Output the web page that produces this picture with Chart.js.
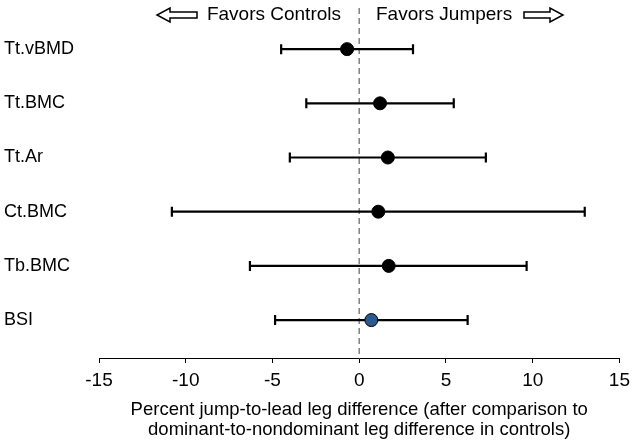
<!DOCTYPE html>
<html>
<head>
<meta charset="utf-8">
<script src="https://cdn.jsdelivr.net/npm/chart.js@4"></script>
<style>
  body { margin: 0; background: #fff; }
  #wrap { width: 636px; height: 444px; }
</style>
</head>
<body>
<div id="wrap"><canvas id="chart"></canvas></div>
<script>
// data
const measures = ["Tt.vBMD", "Tt.BMC", "Tt.Ar", "Ct.BMC", "Tb.BMC", "BSI"];
const meanDiff = [-0.7, 1.2, 1.65, 1.1, 1.7, 0.7];
const lowerCI = [-4.5, -3.05, -4.0, -10.8, -6.3, -4.85];
const upperCI = [3.1, 5.45, 7.3, 13.0, 9.65, 6.25];
const xTicks = [-15, -10, -5, 0, 5, 10, 15];
const markerColors = ["#000", "#000", "#000", "#000", "#000", "#2b5a8e"];

const FONT = "'Liberation Sans', Arial, sans-serif";

// error bars + dashed zero line
const errorBars = {
    id: "errorBars",
    beforeDatasetsDraw(chart) {
        const ctx = chart.ctx
        const x = chart.scales.x
        const y = chart.scales.y
        ctx.save()
        // dashed line at zero
        ctx.strokeStyle = "#808080"
        ctx.lineWidth = 1.5
        ctx.setLineDash([6, 4])
        ctx.beginPath()
        ctx.moveTo(x.getPixelForValue(0), 8)
        ctx.lineTo(x.getPixelForValue(0), chart.chartArea.bottom)
        ctx.stroke()
        ctx.setLineDash([])

        ctx.strokeStyle = "#000"
        ctx.lineWidth = 2.2
        measures.forEach((m, i) => {
            const yp = y.getPixelForValue(i)
            const x1 = x.getPixelForValue(lowerCI[i])
            const x2 = x.getPixelForValue(upperCI[i])
            ctx.beginPath()
            ctx.moveTo(x1, yp)
            ctx.lineTo(x2, yp)
            ctx.moveTo(x1, yp - 5)
            ctx.lineTo(x1, yp + 5)
            ctx.moveTo(x2, yp - 5)
            ctx.lineTo(x2, yp + 5)
            ctx.stroke()
        })
        ctx.restore()
    },
    afterDraw(chart) {
        const ctx = chart.ctx
        ctx.save()
        ctx.font = "19px " + FONT
        ctx.fillStyle = "#000"
        ctx.textBaseline = "middle"
        ctx.textAlign = "right"
        ctx.fillText("Favors Controls", 341, 15)
        ctx.textAlign = "left"
        ctx.fillText("Favors Jumpers", 376, 15)

        // hollow block arrows
        const arrow = (xTail, xHead, yc) => {
            const dir = xHead > xTail ? 1 : -1
            const headLen = 13
            const xb = xHead - dir * headLen
            ctx.beginPath()
            ctx.moveTo(xTail, yc - 3)
            ctx.lineTo(xb, yc - 3)
            ctx.lineTo(xb, yc - 7)
            ctx.lineTo(xHead, yc)
            ctx.lineTo(xb, yc + 7)
            ctx.lineTo(xb, yc + 3)
            ctx.lineTo(xTail, yc + 3)
            ctx.closePath()
            ctx.lineWidth = 1.5
            ctx.strokeStyle = "#000"
            ctx.stroke()
        }
        arrow(197, 157, 15)
        arrow(524, 563, 15)
        ctx.restore()
    }
}

new Chart(document.getElementById("chart"), {
    type: "scatter",
    data: {
        datasets: [{
            data: meanDiff.map((v, i) => ({ x: v, y: i })),
            pointRadius: 6.5,
            pointHoverRadius: 6.5,
            pointBackgroundColor: markerColors,
            pointBorderColor: "#000",
            pointBorderWidth: 1
        }]
    },
    options: {
        responsive: true,
        maintainAspectRatio: false,
        animation: false,
        events: [],
        layout: { padding: { left: 4, right: 16, top: 15, bottom: 0 } },
        plugins: { legend: { display: false }, tooltip: { enabled: false } },
        scales: {
            x: {
                type: "linear",
                min: -15,
                max: 15,
                afterBuildTicks: (s) => { s.ticks = xTicks.map(v => ({ value: v })) },
                border: { display: true, color: "#000", width: 1 },
                grid: { display: true, drawOnChartArea: false, drawTicks: true, tickLength: 5, color: "#000" },
                ticks: { color: "#000", font: { family: FONT, size: 19 }, padding: 6, maxRotation: 0 },
                title: {
                    display: true,
                    text: ["Percent jump-to-lead leg difference (after comparison to",
                           "dominant-to-nondominant leg difference in controls)"],
                    color: "#000",
                    font: { family: FONT, size: 18.5, lineHeight: 1.08 },
                    padding: { top: 2, bottom: 4 }
                },
                afterFit: (s) => { s.height = 86 }
            },
            y: {
                type: "linear",
                reverse: true,
                min: -0.63,
                max: 5.7,
                afterBuildTicks: (s) => { s.ticks = measures.map((m, i) => ({ value: i })) },
                border: { display: false },
                grid: { display: false },
                ticks: {
                    color: "#000",
                    crossAlign: "far",
                    font: { family: FONT, size: 18 },
                    callback: (v) => measures[v] ?? ""
                },
                afterFit: (s) => { s.width = 95 }
            }
        }
    },
    plugins: [errorBars]
})
</script>
</body>
</html>
